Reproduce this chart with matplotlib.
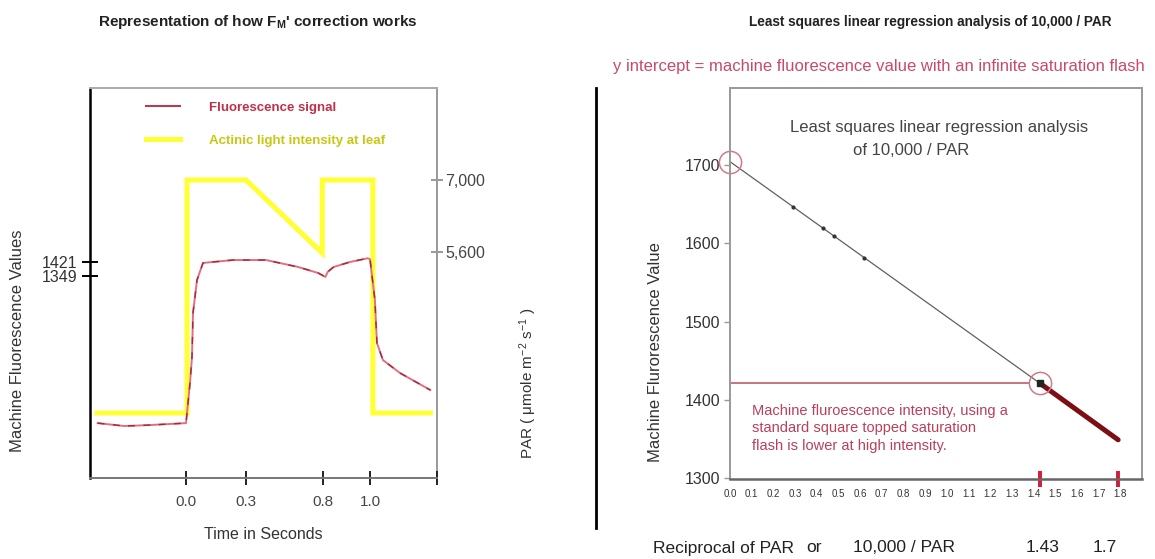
import numpy as np
import matplotlib
matplotlib.use("Agg")
from matplotlib import pyplot as plt
from matplotlib.lines import Line2D

plt.rcParams['font.family'] = ['Liberation Sans', 'DejaVu Sans']
plt.rcParams['mathtext.fontset'] = 'custom'
plt.rcParams['mathtext.rm'] = 'Liberation Sans'
plt.rcParams['mathtext.it'] = 'Liberation Sans:italic'
plt.rcParams['mathtext.bf'] = 'Liberation Sans:bold'

# ---- left panel data (schematic time axis, seconds) ----
TIME_TICKS = [0.0, 0.3, 0.8, 1.0, 1.3]
TIME_LABELS = ['0.0', '0.3', '0.8', '1.0', '']

fluor_t = [-0.46, -0.32, -0.19, 0.0, 0.02, 0.03, 0.035, 0.055, 0.085, 0.235, 0.43,
           0.64, 0.77, 0.81, 0.82, 0.845, 0.915, 0.99, 1.0, 1.022, 1.031, 1.058, 1.135, 1.27]
fluor_v = [593, 578, 583, 593, 799, 933, 1159, 1328, 1416, 1431, 1431,
           1395, 1364, 1344, 1370, 1395, 1421, 1440, 1435, 1226, 1005, 917, 850, 763]

par_t = [-0.464, 0.005, 0.005, 0.3, 0.795, 0.795, 1.013, 1.013, 1.27]
par_v = [2470, 2470, 7000, 7000, 5580, 7000, 7000, 2470, 2470]

FLUOR_TICKS = [1349, 1421]
PAR_TICKS = [5600, 7000]
PAR_LABELS = ['5,600', '7,000']

# ---- right panel data ----
recip_labels = ['0.0', '0.1', '0.2', '0.3', '0.4', '0.5', '0.6', '0.7', '0.8', '0.9',
                '1.0', '1.1', '1.2', '1.3', '1.4', '1.5', '1.6', '1.7', '1.8']
reg_x = [0.0, 1.43]
reg_y = [1704, 1421]
dots_x = [0.29, 0.43, 0.48, 0.62]
dots_y = [1646, 1619, 1609, 1581]
high_x = [1.43, 1.61, 1.79]
high_y = [1421, 1385, 1349]
flash_x = [1.43, 1.79]
MF_TICKS = [1300, 1400, 1500, 1600, 1700]

W, H = 1155, 559
fig = plt.figure(figsize=(W / 100, H / 100), dpi=100)


def fx(px):
    return px / W


def fy(py):
    return 1 - py / H


# piecewise scale of the drawn time axis
T_KNOTS = [-0.5, 0.0, 0.3, 0.8, 1.0, 1.3]
U_KNOTS = [0, 96, 156, 233, 280, 347]


def fwd(t):
    return np.interp(np.asarray(t, dtype=float), T_KNOTS, U_KNOTS)


def inv(u):
    return np.interp(np.asarray(u, dtype=float), U_KNOTS, T_KNOTS)


ax1 = fig.add_axes([fx(90), fy(478), 347 / W, 390 / H])
ax1b = ax1.twinx()
ax1.set_xscale('function', functions=(fwd, inv))
ax1.set_xlim(-0.5, 1.3)
ax1.set_ylim(311, 2315)
ax1b.set_ylim(1206, 8789)

ax1b.plot(par_t, par_v, color='#ffff33', lw=3.6, solid_joinstyle='miter')
ax1.plot(fluor_t, fluor_v, color='#e07080', lw=1.4)
ax1.plot(fluor_t, fluor_v, color='#a02a3a', lw=1.0, dashes=(5, 6))
ax1.set_zorder(ax1b.get_zorder() + 1)
ax1.patch.set_visible(False)

ax1.set_xticks(TIME_TICKS, TIME_LABELS)
ax1.xaxis.set_minor_locator(plt.NullLocator())
ax1.set_yticks(FLUOR_TICKS)
ax1b.set_yticks(PAR_TICKS, PAR_LABELS)
ax1.tick_params(axis='x', direction='inout', length=10, width=1.4, color='#222',
                labelsize=11, labelcolor='#444', pad=7)
ax1.tick_params(axis='y', direction='inout', length=12, width=1.4, color='black',
                labelsize=11.5, labelcolor='#333', pad=3)
ax1b.tick_params(axis='y', direction='inout', length=8, width=1.2, color='#888',
                 labelsize=11.5, labelcolor='#444', pad=2)

for s in ['top', 'right', 'bottom', 'left']:
    ax1b.spines[s].set_visible(s == 'right')
ax1b.spines['right'].set_color('#999')
ax1b.spines['right'].set_linewidth(1.4)
ax1.spines['right'].set_visible(False)
ax1.spines['left'].set_color('black')
ax1.spines['left'].set_linewidth(1.8)
ax1.spines['bottom'].set_color('#777')
ax1.spines['bottom'].set_linewidth(1.4)
ax1.spines['top'].set_color('#aaa')
ax1.spines['top'].set_linewidth(1.4)

ax1.set_xlabel('Time in Seconds', fontsize=11.5, color='#333', labelpad=13)
ax1.set_ylabel('Machine Fluorescence Values', fontsize=12, color='#333')
ax1.yaxis.set_label_coords(-0.187, 0.351)
ax1b.set_ylabel(r'PAR ( $\mathregular{\mu}$mole m$^{-2}$ s$^{-1}$ )', fontsize=11, color='#333')
ax1b.yaxis.set_label_coords(1.231, 0.244)

handles = [Line2D([], [], color='#b04050', lw=1.5), Line2D([], [], color='#ffff33', lw=3.6)]
leg = ax1.legend(handles, ['Fluorescence signal', 'Actinic light intensity at leaf'],
                 loc='upper left', bbox_to_anchor=(0.16, 0.965), frameon=False,
                 prop={'size': 9.5, 'weight': 'bold'}, handlelength=2.6,
                 handletextpad=2.2, labelspacing=1.55, borderpad=0, borderaxespad=0)
leg.get_texts()[0].set_color('#c0304a')
leg.get_texts()[1].set_color('#c8c810')

# ---- right panel ----
ax2 = fig.add_axes([fx(730), fy(479), 412 / W, 391 / H])
ax2.set_xlim(0, 1.9)
ax2.set_ylim(1299, 1798)

ax2.axhline(1421, xmin=0, xmax=1.38 / 1.9, color='#c06a78', lw=1.3)
ax2.plot(reg_x, reg_y, color='#606060', lw=0.9)
ax2.plot(dots_x, dots_y, 'o', color='#333', ms=2)
ax2.plot(high_x, high_y, color='#7b0f14', lw=3.6, solid_capstyle='round')
ax2.plot([reg_x[1]], [reg_y[1]], 's', color='#222', ms=4)
ax2.plot([reg_x[0], reg_x[1]], [reg_y[0], reg_y[1]], 'o', ms=16, mfc='none',
         mec='#d07a8a', mew=1.1, clip_on=False, linestyle='none')

ax2.set_xticks([float(s) for s in recip_labels], recip_labels)
ax2.set_xticks(flash_x, minor=True)
ax2.tick_params(axis='x', which='major', length=0, labelsize=7, labelcolor='#333', pad=7)
ax2.tick_params(axis='x', which='minor', direction='inout', length=11, width=2.8,
                color='#d41a3a')
ax2.set_yticks(MF_TICKS)
ax2.tick_params(axis='y', length=4, width=1, color='#999', labelsize=11.5,
                labelcolor='#333', pad=3)
for s in ['top', 'right', 'left']:
    ax2.spines[s].set_color('#999')
    ax2.spines[s].set_linewidth(1.4)
ax2.spines['bottom'].set_color('#666')
ax2.spines['bottom'].set_linewidth(1.8)

ax2.set_ylabel('Machine Flurorescence Value', fontsize=12, color='#333')
ax2.yaxis.set_label_coords(-0.163, 0.325)

ax2.text(0.146, 0.898, 'Least squares linear regression analysis', transform=ax2.transAxes,
         fontsize=12, color='#444', va='center')
ax2.text(0.299, 0.841, 'of 10,000 / PAR', transform=ax2.transAxes,
         fontsize=12, color='#444', va='center')
ax2.text(0.053, 0.192, 'Machine fluroescence intensity, using a\nstandard square topped saturation\n'
         'flash is lower at high intensity.', transform=ax2.transAxes, fontsize=10.5,
         color='#b8405a', va='top', linespacing=1.3)

# ---- figure texts ----
fig.text(fx(258), fy(22), r"Representation of how F$_\mathbf{M}$' correction works",
         ha='center', va='center', fontsize=11, weight='bold', color='#222')
fig.text(fx(930), fy(22), 'Least squares linear regression analysis of 10,000 / PAR',
         ha='center', va='center', fontsize=9.8, weight='bold', color='#222')
fig.text(fx(613), fy(66), 'y intercept = machine fluorescence value with an infinite saturation flash',
         ha='left', va='center', fontsize=12, color='#c84a6a')
fig.add_artist(Line2D([fx(596), fx(596)], [fy(88), fy(528)], color='black', lw=2))

fig.text(fx(653), fy(548), 'Reciprocal of PAR', ha='left', va='center', fontsize=12.5, color='#222')
fig.text(fx(806), fy(548), 'or', ha='left', va='center', fontsize=12.5, color='#222')
fig.text(fx(853), fy(548), '10,000 / PAR', ha='left', va='center', fontsize=12.5, color='#222')
fig.text(fx(1043), fy(548), '1.43', ha='center', va='center', fontsize=12.5, color='#222')
fig.text(fx(1105), fy(548), '1.7', ha='center', va='center', fontsize=12.5, color='#222')

fig.savefig('out.png', dpi=100, facecolor='white')
